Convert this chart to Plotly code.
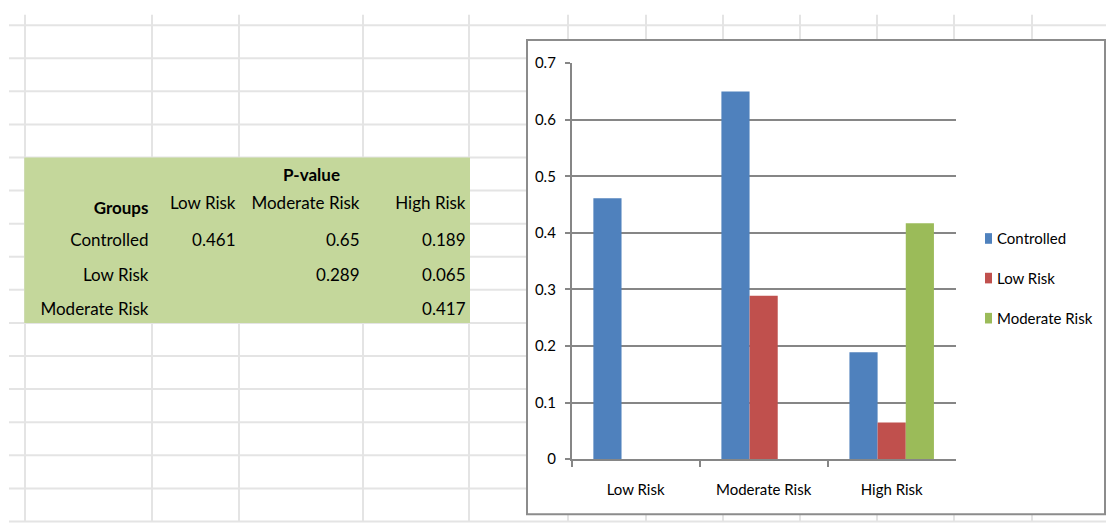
import plotly.graph_objects as go

# ---------------- data ----------------
categories = ["Low Risk", "Moderate Risk", "High Risk"]
series_names = ["Controlled", "Low Risk", "Moderate Risk"]
controlled = [0.461, 0.65, 0.189]
low_risk = [None, 0.289, 0.065]
moderate_risk = [None, None, 0.417]
series_colors = ["#4F81BD", "#C0504D", "#9BBB59"]

table_title = "P-value"
table_header = ["Groups", "Low Risk", "Moderate Risk", "High Risk"]

y_tickvals = [0, 0.1, 0.2, 0.3, 0.4, 0.5, 0.6, 0.7]
y_ticktext = ["0", "0.1", "0.2", "0.3", "0.4", "0.5", "0.6", "0.7"]

# ---------------- layout helpers ----------------
W, H = 1106, 530
FONT = "Lato, sans-serif"
CHART_FS = 15
TABLE_FS = 17


def fx(x):
    return x / W


def fy(y):
    return 1 - y / H


def nb(s):
    return s.replace(" ", "\u00a0")


series_values = [controlled, low_risk, moderate_risk]

fig = go.Figure()

for name, vals, col in zip(series_names, series_values, series_colors):
    fig.add_trace(go.Bar(x=categories, y=vals, name=name, marker_color=col,
                         marker_line_width=0, showlegend=False))

# table built from the same series
col_values = [[nb(n) for n in series_names]]
for i in range(len(categories)):
    col_values.append(["" if s[i] is None else s[i] for s in series_values])

fig.add_trace(go.Table(
    domain=dict(x=[fx(29.5), fx(473.5)], y=[fy(323), fy(185)]),
    columnwidth=[127, 87, 124, 106],
    header=dict(values=["<b>" + table_header[0] + "</b>"] + [nb(h) for h in table_header[1:]],
                align="right", height=34.25,
                fill_color="rgba(0,0,0,0)",
                line_color="rgba(0,0,0,0)", line_width=0,
                font=dict(family=FONT, size=TABLE_FS, color="#000000")),
    cells=dict(values=col_values, align="right", height=34.25,
               fill_color="rgba(0,0,0,0)",
               line_color="rgba(0,0,0,0)", line_width=0,
               font=dict(family=FONT, size=TABLE_FS, color="#000000")),
))

shapes = []
# spreadsheet grid
col_lines = [25, 152, 239, 363, 469, 568, 646, 723, 800, 877, 954, 1032]
row_lines = [15.7 + 34.25 * k for k in range(16)]
for x in col_lines:
    shapes.append(dict(type="line", xref="paper", yref="paper", layer="below",
                       x0=fx(x), x1=fx(x), y0=fy(5), y1=fy(H),
                       line=dict(color="#e4e4e4", width=2)))
for y in row_lines:
    shapes.append(dict(type="line", xref="paper", yref="paper", layer="below",
                       x0=fx(9), x1=1, y0=fy(y), y1=fy(y),
                       line=dict(color="#e4e4e4", width=2)))
# green table background
shapes.append(dict(type="rect", xref="paper", yref="paper", layer="below",
                   x0=fx(24.3), x1=fx(470), y0=fy(324), y1=fy(152.7),
                   fillcolor="#C4D79B", line=dict(width=0)))
# chart area
shapes.append(dict(type="rect", xref="paper", yref="paper", layer="below",
                   x0=fx(527), x1=fx(1105), y0=fy(522), y1=fy(31),
                   fillcolor="#ffffff", line=dict(color="#8c8c8c", width=2)))

annotations = [dict(text="<b>" + table_title + "</b>", xref="paper", yref="paper",
                    x=fx(311), y=fy(170), xanchor="center", yanchor="middle",
                    showarrow=False, font=dict(family=FONT, size=TABLE_FS, color="#000000"))]

# legend (manual, driven by the series lists)
leg_y = [236.5, 277.5, 319]
for name, col, ly in zip(series_names, series_colors, leg_y):
    shapes.append(dict(type="rect", xref="paper", yref="paper",
                       x0=fx(985), x1=fx(992), y0=fy(ly + 5.5), y1=fy(ly - 5.5),
                       fillcolor=col, line=dict(width=0)))
    annotations.append(dict(text=name, xref="paper", yref="paper",
                            x=fx(995), y=fy(ly - 0.5), xanchor="left", yanchor="middle",
                            showarrow=False,
                            font=dict(family=FONT, size=CHART_FS, color="#000000")))

AX = "#868686"
fig.update_layout(
    width=W, height=H, autosize=False,
    margin=dict(l=0, r=0, t=0, b=0),
    paper_bgcolor="#ffffff", plot_bgcolor="rgba(0,0,0,0)",
    barmode="group", bargap=0.34, bargroupgap=0,
    shapes=shapes, annotations=annotations,
    font=dict(family=FONT, size=CHART_FS, color="#000000"),
    xaxis=dict(domain=[fx(571.6), fx(955.7)], type="category",
               showline=True, linecolor=AX, linewidth=1.5,
               ticks="outside", tickson="boundaries", ticklen=6, tickcolor=AX, tickwidth=1.5,
               showgrid=False, ticklabelstandoff=16,
               tickfont=dict(family=FONT, size=CHART_FS, color="#000000")),
    yaxis=dict(domain=[fy(465), fy(55)], range=[0, 0.7],
               tickvals=y_tickvals, ticktext=y_ticktext,
               showline=True, linecolor=AX, linewidth=1.5,
               ticks="outside", ticklen=5, tickcolor=AX, tickwidth=1.5,
               showgrid=True, gridcolor=AX, gridwidth=1.5, zeroline=False,
               ticklabelstandoff=6,
               tickfont=dict(family=FONT, size=CHART_FS, color="#000000")),
)

fig.write_html("out.html")
